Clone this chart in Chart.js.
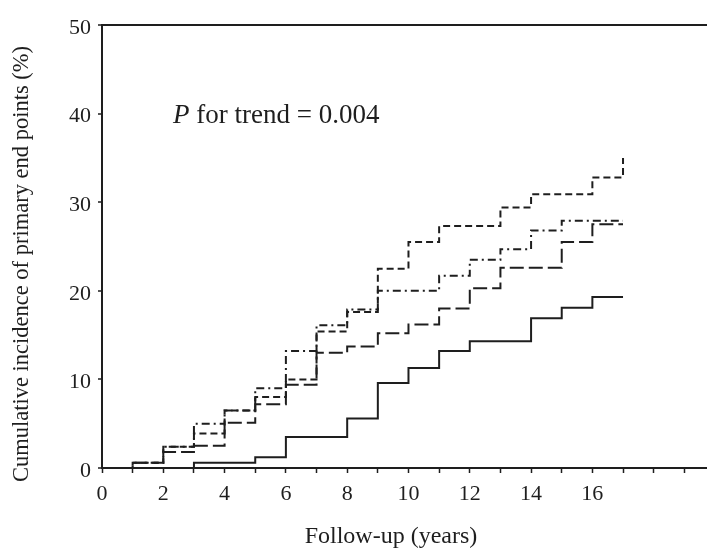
<!DOCTYPE html>
<html>
<head>
<meta charset="utf-8">
<script src="https://cdn.jsdelivr.net/npm/chart.js@4/dist/chart.umd.min.js"></script>
<style>
html,body{margin:0;padding:0;background:#fff;}
#wrap{width:707px;height:550px;}
</style>
</head>
<body>
<div id="wrap"><canvas id="c" width="707" height="550"></canvas></div>
<script>
// Follow-up years (start of each step interval)
const years = [0,1,2,3,4,5,6,7,8,9,10,11,12,13,14,15,16];
const endYear = 17;
// Cumulative incidence (%) per interval
const solidSeries     = [0,0,0,0.6,0.6,1.2,3.5,3.5,5.6,9.6,11.3,13.2,14.3,14.3,16.9,18.1,19.3];
const dashDotSeries   = [0,0.6,2.4,5.0,6.5,9.0,13.2,16.1,17.9,20.0,20.0,21.7,23.5,24.7,26.8,27.9,27.9];
const shortDashSeries = [0,0.6,2.4,3.9,6.5,8.0,10.0,15.4,17.6,22.5,25.5,27.3,27.3,29.4,30.9,30.9,32.8];
const longDashSeries  = [0,0.6,1.8,2.5,5.1,7.2,9.4,13.0,13.7,15.2,16.2,18.0,20.3,22.6,22.6,25.5,27.5];
const shortDashFinal = 35.0;
// Axis ticks
const xTickLabels = [0,2,4,6,8,10,12,14,16];
const yTicks = [0,10,20,30,40,50];
const annotationText = "P for trend = 0.004";
const xTitle = "Follow-up (years)";
const yTitle = "Cumulative incidence of primary end points (%)";

function steps(vals, extra) {
  const pts = years.map((x, i) => ({x: x, y: vals[i]}));
  pts.push({x: endYear, y: vals[vals.length - 1]});
  if (extra !== undefined) pts.push({x: endYear, y: extra});
  return pts;
}

const ink = '#1e1e1e';
const serif = '"Liberation Serif", "Times New Roman", serif';

function ds(data, dash) {
  return {
    data: data, stepped: true, borderColor: ink, borderWidth: 2,
    borderDash: dash, pointRadius: 0, fill: false, borderCapStyle: 'butt'
  };
}

const textPlugin = {
  id: 'texts',
  afterDraw(chart) {
    const ctx = chart.ctx;
    ctx.save();
    ctx.fillStyle = ink;
    // annotation
    ctx.font = 'italic 27px ' + serif;
    ctx.textBaseline = 'alphabetic';
    ctx.textAlign = 'left';
    const px = 173, py = 123;
    ctx.fillText('P', px, py);
    const w = ctx.measureText('P').width;
    ctx.font = '27px ' + serif;
    ctx.fillText(annotationText.slice(1), px + w, py);
    // x title
    ctx.font = '24px ' + serif;
    ctx.textAlign = 'center';
    ctx.textBaseline = 'middle';
    ctx.fillText(xTitle, 391, 537);
    // y title
    ctx.font = '22.5px ' + serif;
    ctx.translate(22, 264);
    ctx.rotate(-Math.PI / 2);
    ctx.fillText(yTitle, 0, 0);
    ctx.restore();
  }
};

new Chart(document.getElementById('c'), {
  type: 'line',
  data: {
    datasets: [
      ds(steps(solidSeries), []),
      ds(steps(longDashSeries), [14, 5]),
      ds(steps(shortDashSeries, shortDashFinal), [7, 4]),
      ds(steps(dashDotSeries), [8, 4, 2, 4])
    ]
  },
  options: {
    responsive: false,
    animation: false,
    devicePixelRatio: 1,
    layout: {padding: {top: 25, left: 0, right: 0, bottom: 0}},
    plugins: {legend: {display: false}, tooltip: {enabled: false}},
    scales: {
      x: {
        type: 'linear', min: 0, max: 19.74, position: 'bottom',
        afterFit: s => { s.height = 82; },
        ticks: {
          stepSize: 1, includeBounds: false, autoSkip: false, maxRotation: 0,
          padding: 8, color: ink, font: {family: serif, size: 22},
          callback: v => xTickLabels.includes(v) ? String(v) : ''
        },
        grid: {drawOnChartArea: false, drawTicks: true, tickLength: 5, tickColor: ink, tickWidth: 1.5},
        border: {display: true, color: ink, width: 2}
      },
      y: {
        type: 'linear', min: 0, max: 50,
        afterFit: s => { s.width = 102; },
        afterBuildTicks: s => { s.ticks = yTicks.map(v => ({value: v})); },
        ticks: {
          padding: 7, labelOffset: 3, color: ink, font: {family: serif, size: 22}
        },
        grid: {
          drawOnChartArea: true, drawTicks: true, tickLength: 4, tickColor: ink, tickWidth: 1.5,
          color: c => (c.tick && c.tick.value === 50) ? ink : 'rgba(0,0,0,0)', lineWidth: 2
        },
        border: {display: true, color: ink, width: 2}
      }
    }
  },
  plugins: [textPlugin]
});
</script>
</body>
</html>
